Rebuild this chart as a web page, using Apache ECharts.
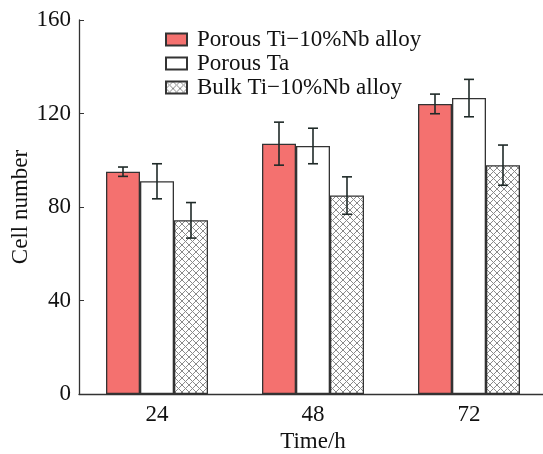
<!DOCTYPE html>
<html>
<head>
<meta charset="utf-8">
<script src="https://cdn.jsdelivr.net/npm/echarts@6/dist/echarts.min.js"></script>
<style>
  html, body { margin: 0; padding: 0; background: #fff; }
  #chart { width: 543px; height: 454px; }
</style>
</head>
<body>
<div id="chart"></div>
<script>
// data
var times = ['24', '48', '72'];
var seriesNames = ['Porous Ti\u221210%Nb alloy', 'Porous Ta', 'Bulk Ti\u221210%Nb alloy'];
var porousTiNb = [95.1, 107.1, 124.1];
var porousTiNbErr = [2, 9.2, 4.2];
var porousTa = [91, 106.1, 126.6];
var porousTaErr = [7.5, 7.6, 8];
var bulkTiNb = [74.3, 84.9, 97.9];
var bulkTiNbErr = [7.6, 8, 8.6];
var yTicks = [0, 40, 80, 120, 160];

var FONT = 'Liberation Serif';
var FS = 23;
var BAR_W = 34;

// crosshatch fill for bulk alloy
function hatchPattern() {
    var c = document.createElement('canvas');
    c.width = 7; c.height = 7;
    var ctx = c.getContext('2d');
    ctx.fillStyle = '#ffffff';
    ctx.fillRect(0, 0, 7, 7);
    ctx.strokeStyle = '#8a8a8a';
    ctx.lineWidth = 1;
    ctx.beginPath();
    ctx.moveTo(0, 0); ctx.lineTo(7, 7);
    ctx.moveTo(7, 0); ctx.lineTo(0, 7);
    ctx.stroke();
    return { image: c, repeat: 'repeat' };
}

// error bars, offset to sit on top of each bar
function errorSeries(values, errs, offset) {
    var data = values.map(function (v, i) { return [i, v, errs[i]]; });
    return {
        type: 'custom',
        data: data,
        z: 10,
        silent: true,
        encode: { x: 0, y: 1 },
        renderItem: function (params, api) {
            var i = api.value(0), v = api.value(1), e = api.value(2);
            var hi = api.coord([i, v + e]);
            var lo = api.coord([i, v - e]);
            var x = hi[0] + offset;
            var cap = 5;
            var style = { stroke: '#1f2a28', lineWidth: 1.6 };
            return {
                type: 'group',
                children: [
                    { type: 'line', shape: { x1: x, y1: hi[1], x2: x, y2: lo[1] }, style: style },
                    { type: 'line', shape: { x1: x - cap, y1: hi[1], x2: x + cap, y2: hi[1] }, style: style },
                    { type: 'line', shape: { x1: x - cap, y1: lo[1], x2: x + cap, y2: lo[1] }, style: style }
                ]
            };
        }
    };
}

var chart = echarts.init(document.getElementById('chart'));
var hatch = hatchPattern();
var barBorder = { borderColor: '#333333', borderWidth: 1.3 };

var option = {
    animation: false,
    backgroundColor: '#ffffff',
    grid: { left: 79, right: -4, top: 20, bottom: 60, outerBoundsMode: 'none' },
    legend: {
        left: 160,
        top: 23,
        orient: 'vertical',
        icon: 'rect',
        itemWidth: 21,
        itemHeight: 12,
        itemGap: 1,
        data: seriesNames,
        textStyle: { fontFamily: FONT, fontSize: FS, color: '#111', padding: [0, 0, 0, 5] }
    },
    xAxis: {
        type: 'category',
        data: times,
        name: 'Time/h',
        nameLocation: 'middle',
        nameGap: 32,
        nameTextStyle: { fontFamily: FONT, fontSize: FS, color: '#111' },
        axisLine: { lineStyle: { color: '#333', width: 1.3 } },
        axisTick: { show: false },
        axisLabel: { fontFamily: FONT, fontSize: FS, color: '#111', margin: 9 }
    },
    yAxis: {
        type: 'value',
        min: yTicks[0],
        max: yTicks[yTicks.length - 1],
        interval: 40,
        name: 'Cell number',
        nameLocation: 'middle',
        nameGap: 47,
        nameMoveOverlap: false,
        nameTextStyle: { fontFamily: FONT, fontSize: FS, color: '#111' },
        axisLine: { show: true, lineStyle: { color: '#333', width: 1.3 } },
        axisTick: { show: true, inside: true, length: 5, lineStyle: { color: '#333' } },
        splitLine: { show: false },
        axisLabel: { fontFamily: FONT, fontSize: FS, color: '#111', margin: 8 }
    },
    series: [
        {
            name: seriesNames[0], type: 'bar', data: porousTiNb,
            barWidth: BAR_W, barGap: '0%',
            itemStyle: Object.assign({ color: '#f4716f' }, barBorder)
        },
        {
            name: seriesNames[1], type: 'bar', data: porousTa,
            barWidth: BAR_W, barGap: '0%',
            itemStyle: Object.assign({ color: '#ffffff' }, barBorder)
        },
        {
            name: seriesNames[2], type: 'bar', data: bulkTiNb,
            barWidth: BAR_W, barGap: '0%',
            itemStyle: Object.assign({ color: hatch }, barBorder)
        },
        errorSeries(porousTiNb, porousTiNbErr, -BAR_W),
        errorSeries(porousTa, porousTaErr, 0),
        errorSeries(bulkTiNb, bulkTiNbErr, BAR_W)
    ]
};
chart.setOption(option);
</script>
</body>
</html>
